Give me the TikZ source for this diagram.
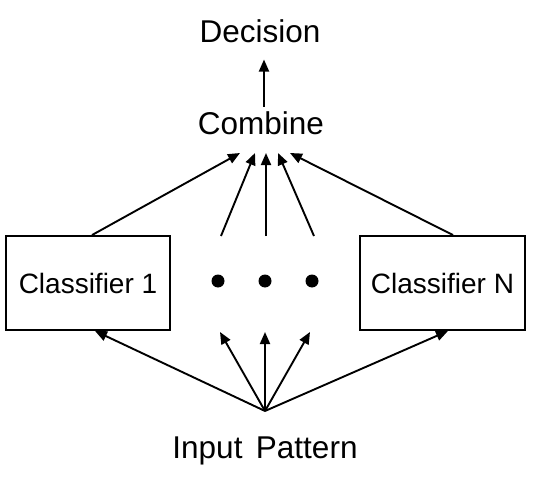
\documentclass[tikz,border=0pt]{standalone}
\usepackage{fontspec}
\setmainfont{Liberation Sans}
\usetikzlibrary{arrows.meta}
\begin{document}
\begin{tikzpicture}[x=1pt,y=-1pt,
  conn/.style={line width=1.9pt,-{Triangle[length=12pt,width=10pt]}},
  box/.style={draw,line width=1.9pt,minimum height=94pt,inner sep=0pt,font=\fontsize{28}{30}\selectfont},
  big/.style={font=\fontsize{31.5}{34}\selectfont,anchor=base,inner sep=0pt},
  dotnode/.style={circle,fill=black,minimum size=13pt,inner sep=0pt}]
\useasboundingbox (0,0) rectangle (536,487);
\node[big] (dec) at (260,43) {Decision};
\node[big] (comb) at (261,135) {Combine};
\node[big] (inp) at (265,458) {Input\hspace{0.15em} Pattern};
\node[box,minimum width=164pt] (c1) at (88,283) {Classifier 1};
\node[box,minimum width=165pt] (cn) at (442.5,283) {Classifier N};
\node[dotnode] (d1) at (218,281) {};
\node[dotnode] (d2) at (265,281) {};
\node[dotnode] (d3) at (312,281) {};
\coordinate (t1) at (240,153);
\coordinate (t2) at (255,153);
\coordinate (t3) at (266,153);
\coordinate (t4) at (278,153);
\coordinate (t5) at (290,153);
\coordinate (s2) at (221,236);
\coordinate (s3) at (266,236);
\coordinate (s4) at (314,236);
\coordinate (src) at (265,411);
\coordinate (b2) at (220,332);
\coordinate (b3) at (265,332);
\coordinate (b4) at (310,332);
\path (c1.north) ++(4,0) coordinate (u1);
\path (cn.north) ++(10.5,0) coordinate (u5);
\path (c1.south) ++(7,0) coordinate (l1);
\path (cn.south) ++(5.5,0) coordinate (l5);
\draw[conn] ([xshift=3pt,yshift=5pt]comb.north) -- ([xshift=4pt,yshift=-16pt]dec.south);
\draw[conn] (u1) -- (t1);
\draw[conn] (s2) -- (t2);
\draw[conn] (s3) -- (t3);
\draw[conn] (s4) -- (t4);
\draw[conn] (u5) -- (t5);
\draw[conn] (src) -- (l1);
\draw[conn] (src) -- (b2);
\draw[conn] (src) -- (b3);
\draw[conn] (src) -- (b4);
\draw[conn] (src) -- (l5);
\end{tikzpicture}
\end{document}
